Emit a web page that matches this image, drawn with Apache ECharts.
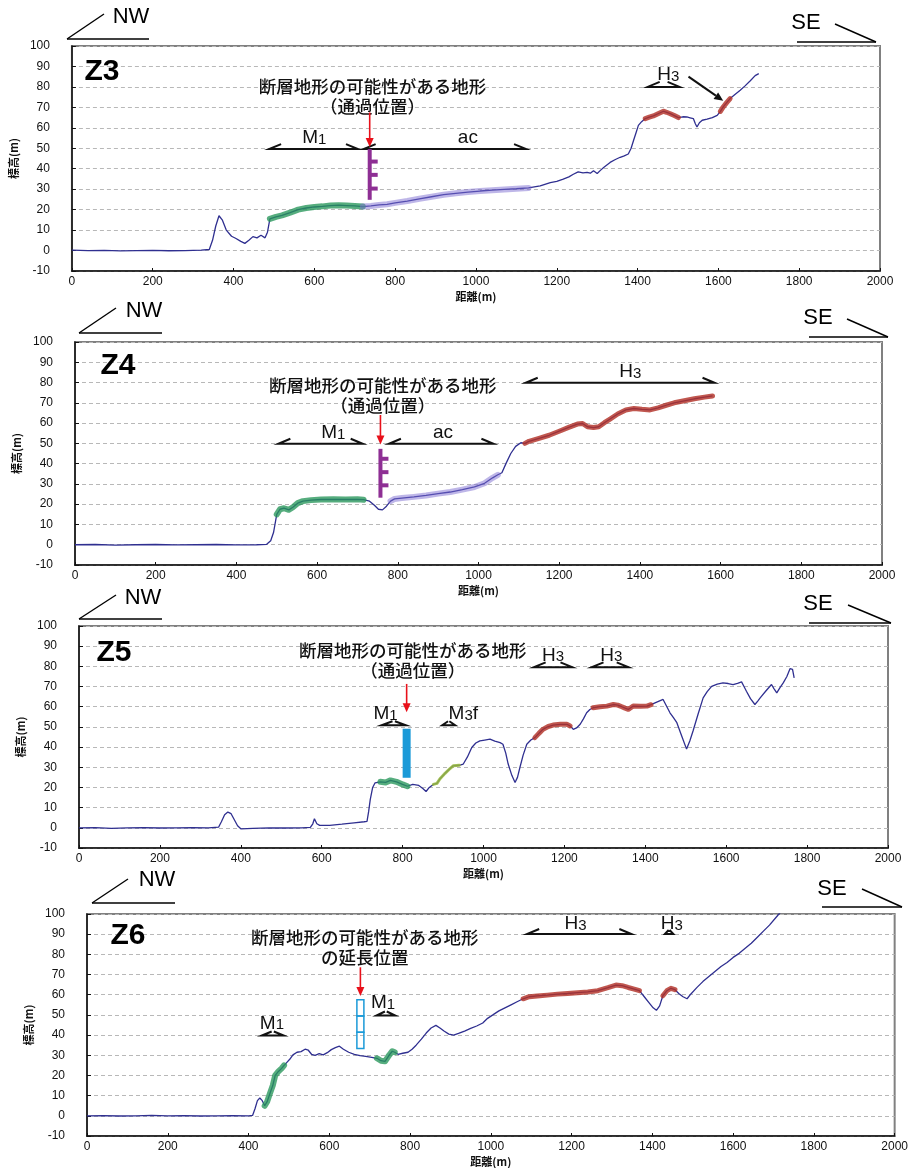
<!DOCTYPE html>
<html><head><meta charset="utf-8">
<script src="https://cdn.jsdelivr.net/npm/echarts@6/dist/echarts.min.js"></script>
<style>html,body{margin:0;padding:0;background:#fff}#c{width:911px;height:1168px}</style>
</head><body><div id="c"></div>
<script>
// ---------------- DATA ----------------
const panelNames = ['Z3', 'Z4', 'Z5', 'Z6'];
const xMin = 0, xMax = 2000, xStep = 200;
const yMin = -10, yMax = 100, yStep = 10;

// profiles [distance(m), elevation(m)]
const z3Profile = [[0,0.2],[40,0],[80,0.1],[120,-0.2],[160,0],[200,0.1],[240,-0.1],[280,0],[320,0.2],[340,0.5],[348,5],[356,12],[364,17],[372,15],[382,10],[395,7],[405,6],[418,4.5],[428,3.5],[438,5],[448,6.8],[458,6.2],[468,7.5],[478,6.2],[484,9],[490,15.5],[505,16.5],[520,17.2],[540,18.5],[560,20],[580,20.8],[600,21.3],[620,21.6],[640,22],[660,22.2],[680,22],[700,21.8],[720,21.5],[740,21.8],[760,22.3],[780,22.6],[800,23.3],[830,24.2],[860,25.3],[890,26.3],[920,27.3],[950,28],[980,28.6],[1010,29.1],[1040,29.5],[1070,29.9],[1100,30.2],[1130,30.6],[1159,31.6],[1184,33.2],[1200,33.8],[1216,34.9],[1230,36],[1241,37.3],[1253,38.5],[1265,38],[1275,38.2],[1283,37.8],[1291,39],[1300,37.7],[1308,39.2],[1316,40.6],[1332,43.1],[1345,44.5],[1357,45.6],[1367,46.3],[1377,47.2],[1384,50],[1390,53.8],[1396,57.5],[1402,61.2],[1410,63],[1419,64.5],[1429,65.2],[1439,65.8],[1452,67],[1464,68.1],[1472,67.6],[1481,66.9],[1491,66],[1501,65],[1512,65.4],[1522,65.3],[1530,64.9],[1538,64.5],[1543,62],[1547,60.4],[1553,62.5],[1560,63.7],[1572,64.2],[1585,65],[1597,66.1],[1605,68],[1612,70.2],[1620,72.2],[1629,74.3],[1641,76.3],[1654,78.4],[1666,80.5],[1679,83],[1691,85.5],[1700,86.5]];
const z4Profile = [[0,0],[50,0.1],[100,-0.2],[150,0],[200,0.1],[250,-0.1],[300,0],[350,0.1],[400,-0.1],[450,0],[475,0.2],[485,2],[492,6],[500,15],[508,17.5],[518,18],[530,17.2],[540,18.5],[552,20.5],[565,21.5],[585,22],[610,22.3],[640,22.4],[670,22.3],[700,22.4],[715,22.2],[730,21.5],[742,19.5],[752,17.5],[762,17.2],[772,19],[782,21.5],[792,22.6],[810,23],[840,23.6],[870,24.3],[900,25.2],[930,26],[960,27.2],[990,28.5],[1015,30.3],[1035,33],[1048,34.5],[1058,35.5],[1068,40],[1080,45],[1092,48.5],[1105,50.3],[1115,50],[1125,51],[1150,52.5],[1175,54],[1200,56],[1225,58],[1245,59.5],[1258,59.8],[1270,58.2],[1285,57.8],[1298,58.2],[1312,60.2],[1326,62],[1345,64.5],[1365,66.5],[1385,67.2],[1405,66.8],[1425,66.5],[1445,67.5],[1465,68.8],[1485,70],[1510,71],[1535,72],[1560,72.8],[1580,73.4]];
const z5Profile = [[0,0],[40,0.1],[80,-0.3],[120,0],[160,0.1],[200,-0.1],[240,0],[280,0.1],[320,0],[345,0.3],[352,3],[360,6.5],[368,7.8],[376,7],[384,4],[392,1],[400,-0.5],[430,-0.3],[470,0],[510,-0.1],[550,0],[572,0.2],[578,2],[582,4.5],[588,2],[595,1.2],[620,1.2],[650,1.8],[680,2.5],[705,3],[712,3.2],[716,8],[720,14],[726,20],[732,22.3],[745,22.8],[758,22.5],[770,23.5],[785,22.8],[800,21.5],[812,20.6],[825,21.5],[840,21],[850,19.5],[858,18],[866,20],[876,21.5],[885,22],[892,24.2],[905,27],[918,29.5],[925,30.7],[940,31],[950,31.6],[960,35],[971,39.8],[981,42],[991,43.1],[1003,43.5],[1016,43.9],[1028,43],[1041,42.2],[1048,41.4],[1055,37],[1061,31.6],[1070,26],[1078,22.5],[1084,25],[1090,29.9],[1098,36],[1107,41.4],[1117,43.5],[1127,44.7],[1137,46.8],[1147,48.8],[1160,50.2],[1172,50.9],[1190,51.3],[1206,51.3],[1214,50.5],[1222,48.8],[1230,49.5],[1239,51.3],[1247,54],[1255,57],[1263,58.6],[1271,59.5],[1288,60],[1305,60.3],[1321,61.1],[1332,60.8],[1342,60],[1350,59.3],[1358,58.7],[1364,59.5],[1370,60.3],[1388,60.2],[1404,60.3],[1414,61],[1424,61.9],[1434,62.8],[1444,63.6],[1452,60.5],[1461,57],[1470,54.5],[1478,52.1],[1490,45.5],[1502,39],[1510,43],[1518,48],[1530,56],[1543,64.4],[1553,67.5],[1564,70.1],[1578,71.2],[1592,71.8],[1605,71.5],[1617,71],[1628,71.6],[1638,72.3],[1644,70],[1650,67.7],[1660,64],[1671,61.1],[1678,62.8],[1684,64.4],[1698,67.8],[1712,71],[1718,69],[1725,66.9],[1733,69.5],[1741,71.8],[1750,75],[1758,78.9],[1764,78.5],[1768,74.3]];
const z6Profile = [[0,0],[40,0.1],[80,-0.1],[120,0],[160,0.2],[200,0],[240,0.1],[280,-0.1],[320,0],[360,0.1],[400,0],[410,0.2],[416,3.5],[422,7.5],[428,8.8],[434,7.5],[440,5],[446,7],[452,10.5],[460,15],[466,20],[474,22],[482,23.5],[488,25],[495,26.5],[502,28],[510,30.2],[520,31.5],[530,31.8],[540,33],[548,32.5],[556,30.5],[565,30],[575,30.8],[585,30.2],[595,31.3],[605,32.8],[615,33.8],[625,34.5],[635,33],[648,31.5],[662,30.5],[676,29.8],[690,29.5],[705,29],[718,28.5],[728,27.3],[738,27],[748,30],[756,32],[762,31.5],[770,30.5],[782,31],[795,31.5],[805,33],[815,35],[828,38],[840,41],[852,43.5],[864,44.8],[874,43.5],[884,42],[896,40.5],[908,40],[920,40.8],[935,42],[950,43.3],[965,44.5],[980,46],[992,48.3],[1005,50],[1020,52],[1035,53.5],[1050,55],[1065,56.5],[1080,58],[1095,59],[1115,59.4],[1140,59.8],[1165,60.3],[1190,60.6],[1215,61],[1240,61.4],[1265,62],[1290,63.5],[1310,64.8],[1325,64.5],[1340,63.6],[1355,62.8],[1368,62],[1380,59],[1392,56],[1402,53.5],[1410,52.3],[1418,54.5],[1426,59.5],[1436,62],[1446,63.2],[1456,62.5],[1466,60.5],[1476,59],[1486,58],[1496,60.5],[1510,63.5],[1525,66.5],[1540,69],[1555,71.5],[1570,74],[1585,76],[1600,78.5],[1615,80.5],[1630,83],[1645,85.5],[1660,88.5],[1675,91.5],[1690,94.5],[1705,98],[1720,101.5]];

// highlighted stretches [from, to] (m) by terrace type
const z3Green = [[490,720]], z3Purple = [[720,1132]], z3Red = [[1415,1502],[1605,1632]], z3Olive = [];
const z4Green = [[500,715]], z4Purple = [[782,1048]], z4Red = [[1115,1580]], z4Olive = [];
const z5Green = [[745,812]], z5Purple = [], z5Red = [[1122,1214],[1267,1414]], z5Olive = [[876,940]];
const z6Green = [[440,488],[718,762]], z6Purple = [], z6Red = [[1080,1368],[1426,1456]], z6Olive = [];

// annotations (data coordinates)
const jpLine1 = '断層地形の可能性がある地形';
const z3Notes = [[744, 80.2, jpLine1], [744, 70.4, '（通過位置）']];
const z4Notes = [[763, 78.6, jpLine1], [763, 68.8, '（通過位置）']];
const z5Notes = [[825, 87.7, jpLine1], [825, 77.9, '（通過位置）']];
const z6Notes = [[688, 88.4, jpLine1], [688, 78.5, 'の延長位置']];
// [x, y, main, subscript, suffix]
const z3Labels = [[600, 55.8, 'M', '1', ''], [980, 55.8, 'ac', '', ''], [1476, 86.5, 'H', '3', '']];
const z4Labels = [[640, 55.8, 'M', '1', ''], [912, 55.8, 'ac', '', ''], [1376, 86.2, 'H', '3', '']];
const z5Labels = [[758, 57.3, 'M', '1', ''], [950, 57.3, 'M', '3', 'f'], [1172, 86.2, 'H', '3', ''], [1316, 86.2, 'H', '3', '']];
const z6Labels = [[458, 46.6, 'M', '1', ''], [733, 56.6, 'M', '1', ''], [1210, 95.8, 'H', '3', ''], [1448, 95.8, 'H', '3', '']];
// extent brackets [x1, x2, y]
const z3Brackets = [[488, 708, 49.6], [722, 1124, 49.6], [1425, 1504, 80]];
const z4Brackets = [[504, 713, 49.8], [778, 1037, 49.8], [1117, 1585, 79.9]];
const z5Brackets = [[748, 808, 50.8], [898, 930, 50.8], [1124, 1220, 79.5], [1267, 1359, 79.5]];
const z6Brackets = [[433, 487, 39.8], [717, 763, 49.7], [1090, 1348, 90.1], [1431, 1452, 90.1]];
// red arrows [x, yTop, yTip]
const z3RedArrows = [[737, 67.5, 50.6]];
const z4RedArrows = [[757, 64, 49.5]];
const z5RedArrows = [[810, 71.3, 57.3]];
const z6RedArrows = [[677, 73.6, 59.4]];
// pointer arrow [x1, y1, x2, y2]
const z3Pointers = [[1526, 85, 1612, 73.2]];
// fault symbols [x, yTop, yBottom, tick1, tick2, tick3]
const z3Faults = [[737, 49.6, 24.8, 43.5, 37, 30.3]];
const z4Faults = [[757, 47.3, 23.2, 42.4, 35.8, 29.3]];
// blue bar [x, yTop, yBottom]; blue boxes [x, yTop, yBottom, count]
const z5BlueBars = [[810, 49.1, 24.8]];
const z6BlueBoxes = [[677, 57.5, 33.3, 3]];

// ---------------- LAYOUT ----------------
const FONT_LAT = "'Liberation Sans', Arial, sans-serif";
const FONT_JP = "'Noto Sans CJK JP', 'Noto Sans CJK SC', sans-serif";
const grids = [
  {left: 71, top: 46, width: 809, height: 225},
  {left: 75, top: 342, width: 807, height: 223},
  {left: 79, top: 626, width: 809, height: 222},
  {left: 87, top: 914, width: 810, height: 223}
];
const panelLabelPos = [[102, 72], [118, 366], [114, 653], [128, 936]];
const decos = [
  {nwT:[131,17], nwB:[67,39,149,39], nwD:[67,39,104,14], seT:[806,23], seB:[797,42,876,42], seD:[835,24,876,42]},
  {nwT:[144,311], nwB:[79,333,162,333], nwD:[79,333,116,308], seT:[818,318], seB:[809,337,888,337], seD:[847,319,888,337]},
  {nwT:[143,598], nwB:[79,619,162,619], nwD:[79,619,116,595], seT:[818,604], seB:[809,623,891,623], seD:[848,605,891,623]},
  {nwT:[157,880], nwB:[92,903,175,903], nwD:[92,903,128,879], seT:[832,889], seB:[822,907,902,907], seD:[862,889,902,907]}
];

const profiles = [z3Profile, z4Profile, z5Profile, z6Profile];
const greens = [z3Green, z4Green, z5Green, z6Green];
const purples = [z3Purple, z4Purple, z5Purple, z6Purple];
const reds = [z3Red, z4Red, z5Red, z6Red];
const olives = [z3Olive, z4Olive, z5Olive, z6Olive];
const annos = [
  {notes: z3Notes, labels: z3Labels, brackets: z3Brackets, red: z3RedArrows, pointers: z3Pointers, faults: z3Faults},
  {notes: z4Notes, labels: z4Labels, brackets: z4Brackets, red: z4RedArrows, faults: z4Faults},
  {notes: z5Notes, labels: z5Labels, brackets: z5Brackets, red: z5RedArrows, bars: z5BlueBars},
  {notes: z6Notes, labels: z6Labels, brackets: z6Brackets, red: z6RedArrows, boxes: z6BlueBoxes}
];

function pick(profile, ranges) {
  return ranges.map(r => profile.filter(p => p[0] >= r[0] && p[0] <= r[1]));
}

function buildItems(a) {
  const it = [];
  (a.notes || []).forEach(n => it.push({k: 'note', d: [n[0], n[1]], t: n[2]}));
  (a.labels || []).forEach(n => it.push({k: 'label', d: [n[0], n[1]], m: n[2], s: n[3], f: n[4]}));
  (a.brackets || []).forEach(n => it.push({k: 'bracket', d: [n[0], n[2]], x1: n[0], x2: n[1], y: n[2]}));
  (a.red || []).forEach(n => it.push({k: 'red', d: [n[0], n[2]], x: n[0], y1: n[1], y2: n[2]}));
  (a.pointers || []).forEach(n => it.push({k: 'pointer', d: [n[2], n[3]], p: n}));
  (a.faults || []).forEach(n => it.push({k: 'fault', d: [n[0], n[2]], p: n}));
  (a.bars || []).forEach(n => it.push({k: 'bar', d: [n[0], n[2]], p: n}));
  (a.boxes || []).forEach(n => it.push({k: 'boxes', d: [n[0], n[2]], p: n}));
  return it;
}

function annoSeries(gi, items) {
  return {
    type: 'custom', xAxisIndex: gi, yAxisIndex: gi, silent: true, z: 10, clip: false,
    data: items.map(o => o.d),
    renderItem: function (params, api) {
      const o = items[params.dataIndex];
      const c = v => api.coord(v);
      if (o.k === 'note') {
        const p = c(o.d);
        return {type: 'text', x: p[0], y: p[1], style: {text: o.t, align: 'center', verticalAlign: 'middle', font: '500 17.5px ' + FONT_JP, fill: '#111'}};
      }
      if (o.k === 'label') {
        const p = c(o.d);
        let txt = '{m|' + o.m + '}';
        if (o.s) txt += '{s|' + o.s + '}';
        if (o.f) txt += '{m|' + o.f + '}';
        return {type: 'text', x: p[0], y: p[1], style: {text: txt, align: 'center', verticalAlign: 'middle',
          rich: {m: {fontSize: 19, fontFamily: FONT_LAT, fill: '#111', lineHeight: 22, verticalAlign: 'bottom'},
                 s: {fontSize: 15, fontFamily: FONT_LAT, fill: '#111', lineHeight: 19, verticalAlign: 'bottom'}}}};
      }
      if (o.k === 'bracket') {
        const a = c([o.x1, o.y]), b = c([o.x2, o.y]);
        const len = b[0] - a[0];
        const bx = Math.min(12, len * 0.45), by = len < 30 ? 4 : 5;
        return {type: 'polyline', shape: {points: [[a[0] + bx, a[1] - by], a, b, [b[0] - bx, b[1] - by]]},
          style: {stroke: '#111', lineWidth: 2, fill: null, lineJoin: 'miter'}};
      }
      if (o.k === 'red') {
        const a = c([o.x, o.y1]), b = c([o.x, o.y2]);
        return {type: 'group', children: [
          {type: 'line', shape: {x1: a[0], y1: a[1], x2: b[0], y2: b[1] - 6}, style: {stroke: '#e8101a', lineWidth: 1.6}},
          {type: 'polygon', shape: {points: [[b[0], b[1]], [b[0] - 4, b[1] - 9], [b[0] + 4, b[1] - 9]]}, style: {fill: '#e8101a'}}
        ]};
      }
      if (o.k === 'pointer') {
        const a = c([o.p[0], o.p[1]]), b = c([o.p[2], o.p[3]]);
        const ang = Math.atan2(b[1] - a[1], b[0] - a[0]);
        const L = 9, W = 4;
        const bx = b[0] - L * Math.cos(ang), byy = b[1] - L * Math.sin(ang);
        return {type: 'group', children: [
          {type: 'line', shape: {x1: a[0], y1: a[1], x2: bx, y2: byy}, style: {stroke: '#111', lineWidth: 2}},
          {type: 'polygon', shape: {points: [b, [bx - W * Math.sin(ang), byy + W * Math.cos(ang)], [bx + W * Math.sin(ang), byy - W * Math.cos(ang)]]}, style: {fill: '#111'}}
        ]};
      }
      if (o.k === 'fault') {
        const a = c([o.p[0], o.p[1]]), b = c([o.p[0], o.p[2]]);
        const ch = [{type: 'line', shape: {x1: a[0], y1: a[1], x2: b[0], y2: b[1]}, style: {stroke: '#8e2f94', lineWidth: 4}}];
        for (let i = 3; i < o.p.length; i++) {
          const t = c([o.p[0], o.p[i]]);
          ch.push({type: 'rect', shape: {x: t[0], y: t[1] - 2, width: 8, height: 4}, style: {fill: '#8e2f94'}});
        }
        return {type: 'group', children: ch};
      }
      if (o.k === 'bar') {
        const a = c([o.p[0], o.p[1]]), b = c([o.p[0], o.p[2]]);
        return {type: 'rect', shape: {x: a[0] - 4, y: a[1], width: 8, height: b[1] - a[1]}, style: {fill: '#1b9ad8'}};
      }
      if (o.k === 'boxes') {
        const a = c([o.p[0], o.p[1]]), b = c([o.p[0], o.p[2]]);
        const n = o.p[3], h = (b[1] - a[1]) / n;
        const ch = [];
        for (let i = 0; i < n; i++) {
          ch.push({type: 'rect', shape: {x: a[0] - 3.5, y: a[1] + i * h, width: 7, height: h}, style: {fill: 'none', stroke: '#1b9ad8', lineWidth: 1.5}});
        }
        return {type: 'group', children: ch};
      }
      return null;
    }
  };
}

const option = {animation: false, backgroundColor: '#fff', grid: [], xAxis: [], yAxis: [], series: [], graphic: []};

grids.forEach((g, i) => {
  option.grid.push(Object.assign({show: true, borderColor: '#808080', borderWidth: 2, backgroundColor: '#fff'}, g));
  option.xAxis.push({
    gridIndex: i, type: 'value', min: xMin, max: xMax, interval: xStep,
    axisLine: {show: true, onZero: false, lineStyle: {color: '#111', width: 1.5}},
    axisTick: {show: true, inside: true, length: 3, lineStyle: {color: '#111'}},
    axisLabel: {color: '#111', fontSize: 12, margin: 5, fontFamily: FONT_LAT, formatter: v => String(v)},
    splitLine: {show: false},
    name: '距離(m)', nameLocation: 'middle', nameGap: 20,
    nameTextStyle: {color: '#111', fontSize: 11, fontWeight: 'bold', fontFamily: FONT_JP}
  });
  option.yAxis.push({
    gridIndex: i, type: 'value', min: yMin, max: yMax, interval: yStep,
    axisLine: {show: true, onZero: false, lineStyle: {color: '#111', width: 1.5}},
    axisTick: {show: true, inside: true, length: 4, lineStyle: {color: '#111'}},
    axisLabel: {color: '#111', fontSize: 12, margin: 22, fontFamily: FONT_LAT},
    splitLine: {show: true, lineStyle: {color: '#b8b8b8', type: [4, 3], width: 1}},
    name: '標高(m)', nameLocation: 'middle', nameGap: 44,
    nameTextStyle: {color: '#111', fontSize: 11, fontWeight: 'bold', fontFamily: FONT_JP}
  });
  const prof = profiles[i];
  const hl = (ranges, color, width) => pick(prof, ranges).forEach(seg => option.series.push({
    type: 'line', xAxisIndex: i, yAxisIndex: i, data: seg, showSymbol: false, silent: true, z: 6,
    lineStyle: {color: color, width: width, cap: 'round', join: 'round'}
  }));
  option.series.push({
    type: 'line', xAxisIndex: i, yAxisIndex: i, data: prof, showSymbol: false, silent: true, z: 5,
    lineStyle: {color: '#2f2f90', width: 1.3}
  });
  hl(greens[i], 'rgba(38,150,90,0.78)', 6);
  hl(purples[i], 'rgba(125,110,210,0.5)', 6);
  hl(reds[i], 'rgba(178,50,40,0.82)', 5);
  hl(olives[i], 'rgba(150,185,60,0.85)', 3);
  option.series.push(annoSeries(i, buildItems(annos[i])));

  option.graphic.push({type: 'text', x: panelLabelPos[i][0], y: panelLabelPos[i][1], z: 20,
    style: {text: panelNames[i], align: 'center', verticalAlign: 'middle', font: 'bold 30px ' + FONT_LAT, fill: '#000'}});
  const d = decos[i];
  option.graphic.push(
    {type: 'text', x: d.nwT[0], y: d.nwT[1], style: {text: 'NW', align: 'center', verticalAlign: 'middle', font: '22px ' + FONT_LAT, fill: '#000'}},
    {type: 'line', shape: {x1: d.nwB[0], y1: d.nwB[1], x2: d.nwB[2], y2: d.nwB[3]}, style: {stroke: '#000', lineWidth: 1.6}},
    {type: 'line', shape: {x1: d.nwD[0], y1: d.nwD[1], x2: d.nwD[2], y2: d.nwD[3]}, style: {stroke: '#000', lineWidth: 1.4}},
    {type: 'text', x: d.seT[0], y: d.seT[1], style: {text: 'SE', align: 'center', verticalAlign: 'middle', font: '22px ' + FONT_LAT, fill: '#000'}},
    {type: 'line', shape: {x1: d.seB[0], y1: d.seB[1], x2: d.seB[2], y2: d.seB[3]}, style: {stroke: '#000', lineWidth: 1.6}},
    {type: 'line', shape: {x1: d.seD[0], y1: d.seD[1], x2: d.seD[2], y2: d.seD[3]}, style: {stroke: '#000', lineWidth: 1.4}}
  );
});

const chart = echarts.init(document.getElementById('c'));
chart.setOption(option);
</script>
</body></html>
